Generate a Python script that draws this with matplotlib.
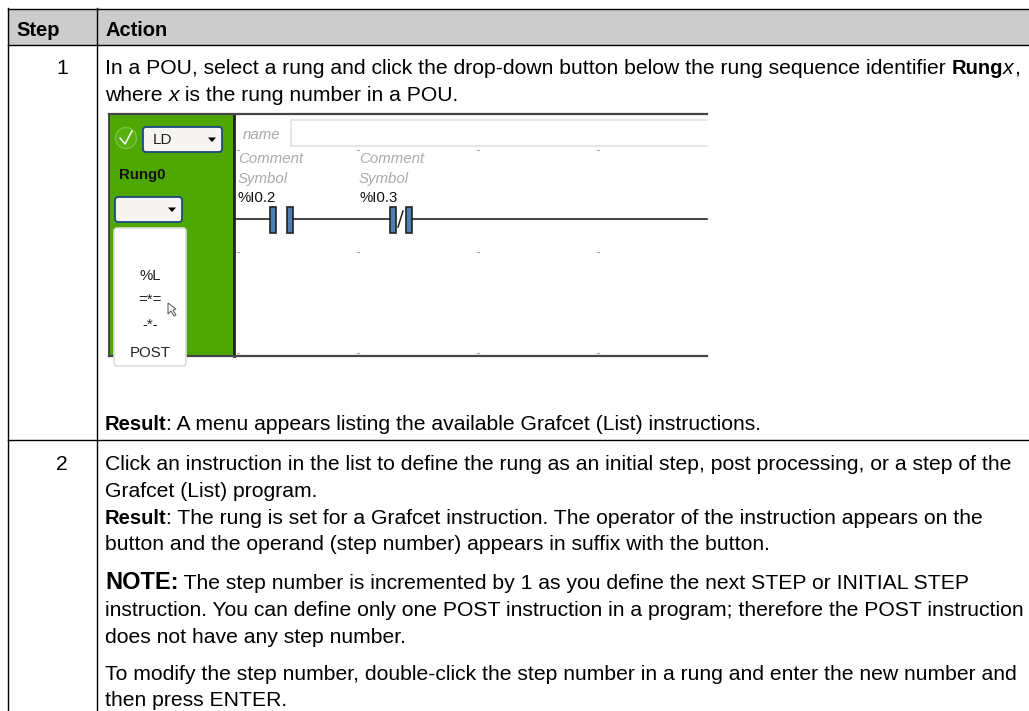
import matplotlib
matplotlib.use('Agg')
import matplotlib.pyplot as plt
from matplotlib.patches import Rectangle, FancyBboxPatch, Circle, Polygon

plt.rcParams['font.family'] = ['Liberation Sans', 'DejaVu Sans']

# Text of the table: each line is (baseline y, list of (text, style))
headers = ['Step', 'Action']
step_numbers = ['1', '2']
step_y = [74, 470]
lines = [
    (74, [('In a POU, select a rung and click the drop-down button below the rung sequence identifier ', 'n'), ('Rung', 'b'), ('x', 'i'), (',', 'n')]),
    (101, [('where ', 'n'), ('x', 'i'), (' is the rung number in a POU.', 'n')]),
    (430, [('Result', 'b'), (': A menu appears listing the available Grafcet (List) instructions.', 'n')]),
    (470, [('Click an instruction in the list to define the rung as an initial step, post processing, or a step of the', 'n')]),
    (497, [('Grafcet (List) program.', 'n')]),
    (524, [('Result', 'b'), (': The rung is set for a Grafcet instruction. The operator of the instruction appears on the', 'n')]),
    (550, [('button and the operand (step number) appears in suffix with the button.', 'n')]),
    (589, [('NOTE:', 'B'), (' The step number is incremented by 1 as you define the next STEP or INITIAL STEP', 'n')]),
    (616, [('instruction. You can define only one POST instruction in a program; therefore the POST instruction', 'n')]),
    (643, [('does not have any step number.', 'n')]),
    (680, [('To modify the step number, double-click the step number in a rung and enter the new number and', 'n')]),
    (706, [('then press ENTER.', 'n')]),
]
menu_items = ['%L', '=*=', '-*-', 'POST']
menu_y = [280, 303, 328, 357]
contact_labels = ['%I0.2', '%I0.3']
contact_x = [238, 359]
grid_x = [238, 358, 478, 598]
grid_y = [150, 252, 353]

fig = plt.figure(figsize=(10.29, 7.11), dpi=100)
ax = fig.add_axes([0, 0, 1, 1])
ax.set_xlim(0, 1029)
ax.set_ylim(711, 0)
ax.axis('off')

# table
ax.add_patch(Rectangle((7.5, 8.5), 1021.5, 36.5, fc='#cccccc', ec='none'))
ax.plot([7.5, 1029], [8.5, 8.5], color='black', lw=1)
ax.plot([7.5, 1029], [45, 45], color='black', lw=1)
ax.plot([7.5, 1029], [439.5, 439.5], color='black', lw=1)
ax.plot([7.5, 7.5], [8, 711], color='black', lw=1)
ax.plot([97, 97], [8, 711], color='black', lw=1)

FS = 15.25
FS_BOLD = 14.5
FS_NOTE = 17
SMALL = 10.8
ax.text(16, 36, headers[0], fontsize=FS_BOLD, fontweight='bold', va='baseline')
ax.text(105, 36, headers[1], fontsize=FS_BOLD, fontweight='bold', va='baseline')
for n, y in zip(step_numbers, step_y):
    ax.text(62, y, n, fontsize=FS, ha='center', va='baseline')

# mixed runs are placed one after another
fig.canvas.draw()
rend = fig.canvas.get_renderer()
sizes = {'n': FS, 'i': FS, 'b': FS_BOLD, 'B': FS_NOTE}
for y, runs in lines:
    x = 105
    for txt, st in runs:
        t = ax.text(x, y, txt, fontsize=sizes[st], va='baseline',
                    fontweight='bold' if st in 'bB' else 'normal',
                    fontstyle='italic' if st == 'i' else 'normal')
        # trailing spaces are not measured, so measure with a closing dot removed
        t.set_text(txt + '.')
        w = t.get_window_extent(rend).width
        t.set_text('.')
        w -= t.get_window_extent(rend).width
        t.set_text(txt)
        x += w

# screenshot of the rung
ax.add_patch(Rectangle((109, 114), 125, 242, fc='#4ea600', ec='#333333', lw=1.2))
ax.plot([234, 234], [114, 356], color='#222222', lw=2)
ax.plot([109, 707], [114, 114], color='#444444', lw=1.6)
ax.plot([109, 707], [356, 356], color='#444444', lw=1.6)
ax.plot([291, 707], [120, 120], color='#e2e2e2', lw=1.2)
ax.plot([291, 707], [146, 146], color='#e2e2e2', lw=1.2)
ax.plot([291, 291], [120, 146], color='#e2e2e2', lw=1.2)
ax.text(243, 139, 'name', fontsize=SMALL, style='italic', color='#a8a8a8', va='baseline')

for x, lab in zip(contact_x, contact_labels):
    ax.text(x, 163, 'Comment', fontsize=SMALL, style='italic', color='#aaaaaa', va='baseline')
    ax.text(x, 183, 'Symbol', fontsize=SMALL, style='italic', color='#aaaaaa', va='baseline')
    ax.text(x, 202, lab, fontsize=SMALL, color='#111111', va='baseline')
for x in grid_x:
    for y in grid_y:
        ax.plot([x - 1, x + 1], [y, y], color='#aaaaaa', lw=0.8)

# wire and contacts
for x0, x1 in [(234, 270), (293, 390), (412, 707)]:
    ax.plot([x0, x1], [219, 219], color='#222222', lw=1.2)
for x in [270, 287, 390, 406]:
    ax.add_patch(Rectangle((x, 207), 6, 26, fc='#4f7fb0', ec='#222222', lw=1.2))
ax.plot([398, 403], [227, 211], color='#222222', lw=1.1)

# buttons
ax.add_patch(Circle((126, 138), 10.5, fc='#55b010', ec='#7cc04a', lw=1))
ax.plot([120, 125, 132], [138, 144, 131], color='white', lw=1.1)
for x0, x1, y0, y1 in [(143, 222, 127, 152), (115, 182, 197, 222)]:
    ax.add_patch(FancyBboxPatch((x0 + 3, y0 + 3), x1 - x0 - 6, y1 - y0 - 6, boxstyle='round,pad=3',
                                fc='#f6f5f1', ec='#1c4a80', lw=1.3))
    ax.add_patch(Polygon([[x1 - 14, y0 + 10.5], [x1 - 6, y0 + 10.5], [x1 - 10, y0 + 15]], fc='black', ec='none'))
ax.text(153, 144, 'LD', fontsize=11, color='#222222', va='baseline')
ax.text(119, 179, 'Rung0', fontsize=SMALL, fontweight='bold', color='#111111', va='baseline')

# drop-down menu
ax.add_patch(FancyBboxPatch((117, 231), 66, 132, boxstyle='round,pad=3', fc='white', ec='#dddddd', lw=1.2, zorder=3))
for it, y in zip(menu_items, menu_y):
    ax.text(150, y, it, fontsize=SMALL, ha='center', va='baseline', color='#222222', zorder=4)
ax.add_patch(Polygon([[168, 303], [168, 314], [171, 311], [174, 316], [176, 315], [173, 310], [176, 309]],
                     fc='white', ec='#666666', lw=0.8, zorder=4))

fig.savefig('out.png', dpi=100)
